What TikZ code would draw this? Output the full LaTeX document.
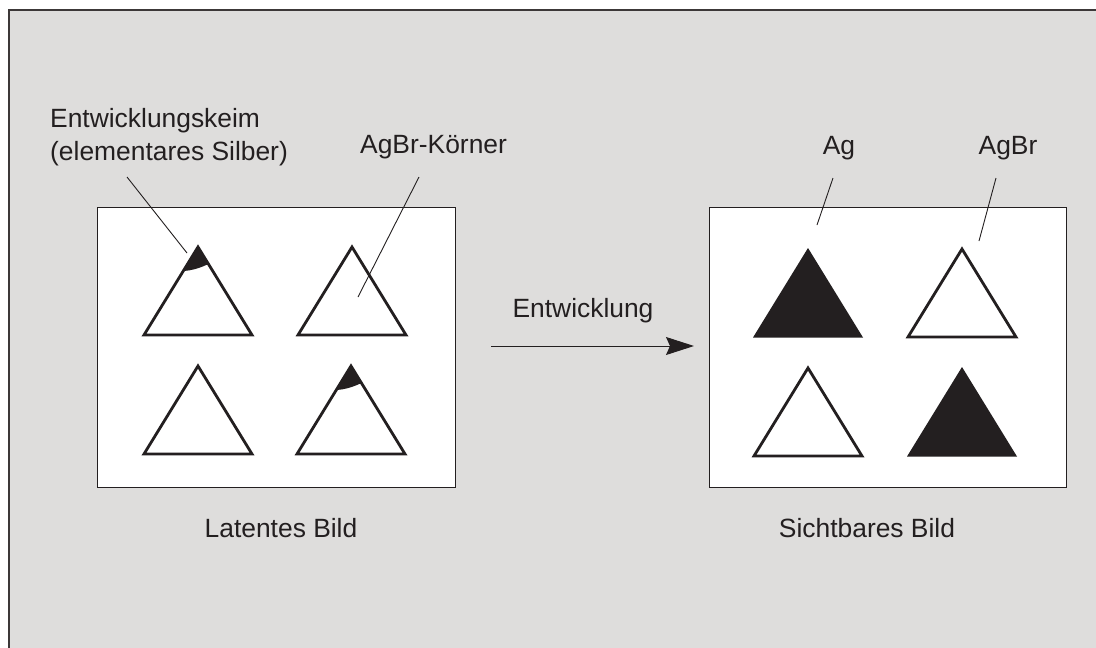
\documentclass[tikz,border=0pt]{standalone}
\usepackage{fontspec}
\setmainfont{Liberation Sans}
\usetikzlibrary{arrows.meta}
\definecolor{bg}{RGB}{222,221,220}
\definecolor{ink}{RGB}{35,31,32}
\definecolor{frame}{RGB}{60,56,56}
\tikzset{
  x=1pt, y=-1pt,
  lbl/.style={inner sep=0pt, text=ink, font=\fontsize{26.4pt}{33pt}\selectfont},
  leader/.style={draw=ink, line width=0.9pt},
  panel/.style={fill=white, draw=ink, line width=0.9pt},
  opentri/.pic={\draw[ink, line width=2.8pt, line join=miter] (0,0) -- (-54,88) -- (54,88) -- cycle;},
  fulltri/.pic={\fill[ink] (0,-1) -- (-55,88.5) -- (55,88.5) -- cycle;},
  captri/.pic={
    \fill[ink] (0,0) -- (-14.7,24) .. controls (-6,23.5) and (2,21) .. (10.4,17) -- cycle;
    \draw[ink, line width=2.8pt, line join=miter] (0,0) -- (-54,88) -- (54,88) -- cycle;}
}
\begin{document}
\begin{tikzpicture}
\useasboundingbox (0,0) rectangle (1096,648);
\fill[white] (0,0) rectangle (1096,648);
\fill[bg] (9,10) rectangle (1100,652);
\draw[frame, line width=1.8pt] (9,652) -- (9,10) -- (1100,10);

% panels
\draw[panel] (97,207) rectangle (455,487);
\draw[panel] (709,207) rectangle (1066,487);

% left panel triangles
\pic at (198,247) {captri};
\pic at (352,247) {opentri};
\pic at (198,366) {opentri};
\pic at (351,366) {captri};

% right panel triangles
\pic at (808,249) {fulltri};
\pic at (962,249) {opentri};
\pic at (808,368) {opentri};
\pic at (962,368) {fulltri};

% labels
\node[lbl, anchor=base west] (keim1) at (50,127) {Entwicklungskeim};
\node[lbl, anchor=base west] (keim2) at (50,160) {(elementares Silber)};
\node[lbl, anchor=base west] (koerner) at (360,153) {AgBr-Körner};
\node[lbl, anchor=base] (ag) at (839,154) {Ag};
\node[lbl, anchor=base] (agbr) at (1008,154) {AgBr};
\node[lbl, anchor=base] (entw) at (583,317) {Entwicklung};
\node[lbl, anchor=base] (latent) at (281,537) {Latentes Bild};
\node[lbl, anchor=base] (sicht) at (867,537) {Sichtbares Bild};

% leader lines
\coordinate (k1) at (127,177);  \coordinate (k2) at (187,253);
\coordinate (c1) at (419,177);  \coordinate (c2) at (358,297);
\coordinate (a1) at (833,178);  \coordinate (a2) at (817,225);
\coordinate (b1) at (996,178);  \coordinate (b2) at (979,241);
\draw[leader] (k1) -- (k2);
\draw[leader] (c1) -- (c2);
\draw[leader] (a1) -- (a2);
\draw[leader] (b1) -- (b2);

% arrow
\coordinate (arrL) at (491,346);
\coordinate (arrR) at (694,346);
\draw[ink, line width=1pt, -{Stealth[length=28pt,width=18pt,inset=4pt]}] (arrL) -- (arrR);
\end{tikzpicture}
\end{document}
